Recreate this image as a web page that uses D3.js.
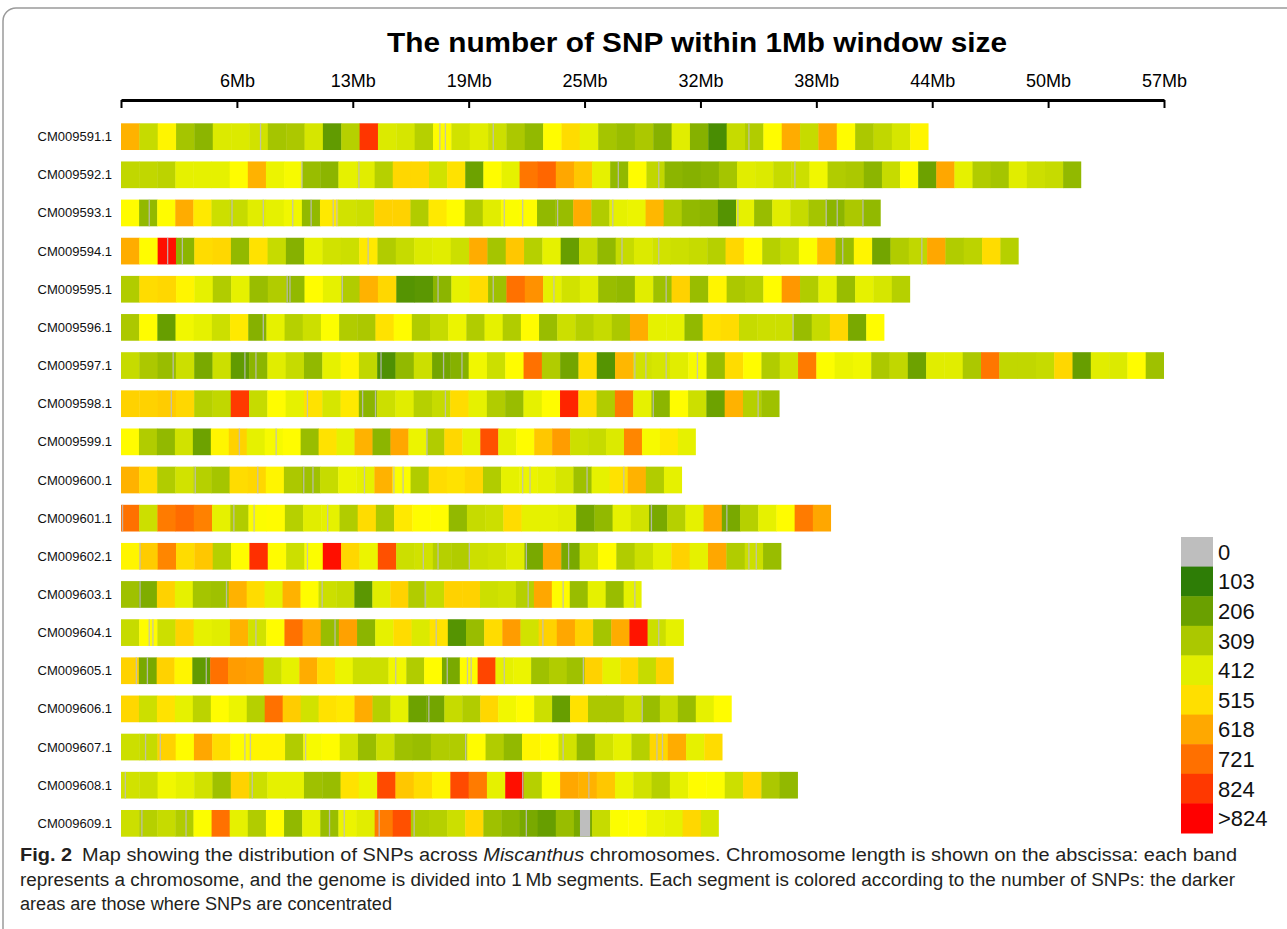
<!DOCTYPE html>
<html>
<head>
<meta charset="utf-8">
<script src="https://cdn.jsdelivr.net/npm/d3@7"></script>
<style>
body { margin:0; background:#fff; }
text { font-family: "Liberation Sans", Arial, Helvetica, sans-serif; }
</style>
</head>
<body>
<svg id="chart"></svg>
<script>
// chromosome names and lengths (Mb)
var chroms = ["CM009591.1","CM009592.1","CM009593.1","CM009594.1","CM009595.1","CM009596.1",
  "CM009597.1","CM009598.1","CM009599.1","CM009600.1","CM009601.1","CM009602.1","CM009603.1",
  "CM009604.1","CM009605.1","CM009606.1","CM009607.1","CM009608.1","CM009609.1"];
var chromLen = [43.9, 52.2, 41.3, 48.8, 42.9, 41.5, 56.7, 35.8, 31.25, 30.5, 38.6, 35.9,
  28.3, 30.6, 30.05, 33.2, 32.7, 36.8, 32.5];

// SNP count per window
var snp91 = [600,360,480,300,260,400,400,380,300,310,390,190,330,830,400,390,330,470,380,
  410,370,310,270,470,520,420,300,280,310,250,410,250,150,360,320,470,610,360,
  620,470,310,350,390,480];
var snp92 = [350,350,340,420,420,420,470,600,430,450,280,260,420,410,330,530,530,380,510,
  210,470,420,710,740,620,560,420,270,470,350,260,250,260,300,410,400,360,370,
  440,320,310,260,360,470,210,620,420,320,300,410,370,360,270];
var snp93 = [470,270,470,610,500,370,360,410,420,440,270,500,380,370,540,540,320,500,470,
  320,410,460,470,270,280,610,320,420,430,590,320,270,260,170,420,280,410,360,
  300,260,310,270];
var snp94 = [610,470,900,260,520,530,270,510,360,250,420,380,370,500,320,360,400,410,370,
  610,300,560,330,420,200,360,270,360,400,380,370,360,330,530,470,330,360,460,
  580,280,480,220,320,350,620,320,340,520,330];
var snp95 = [320,520,530,480,420,320,420,280,320,270,470,420,320,600,530,170,180,260,420,
  520,290,720,660,420,380,410,280,270,410,290,540,280,480,310,330,470,650,320,
  420,280,420,390,330];
var snp96 = [310,470,200,440,420,370,500,250,420,330,370,460,320,310,510,470,320,360,430,
  320,420,320,470,280,370,330,360,310,610,420,420,270,510,520,360,370,370,280,
  360,530,230,470];
var snp97 = [360,310,280,370,230,370,190,260,410,360,270,420,480,350,160,270,370,220,250,
  440,370,470,720,320,220,520,170,590,380,390,410,450,280,520,470,320,380,700,
  460,430,440,310,350,210,410,410,310,710,350,350,360,530,200,410,400,470,290];
var snp98 = [540,540,550,530,330,350,820,360,470,420,510,390,500,260,370,410,330,360,520,
  420,320,280,420,470,860,520,320,700,420,260,470,370,210,600,330,290];
var snp99 = [470,320,270,380,210,480,540,420,450,470,280,510,420,600,260,620,430,320,530,
  420,780,420,470,560,640,370,360,400,680,450,500,420];
var snp600 = [600,520,320,380,330,300,520,530,480,310,290,360,430,420,600,460,320,520,510,
  530,320,420,430,420,390,290,420,510,600,320,420];
var snp601 = [720,370,700,730,690,420,320,460,470,330,410,420,320,520,310,500,470,470,270,
  360,370,520,420,420,410,220,270,420,380,230,330,420,620,230,330,420,470,700,620];
var snp602 = [480,550,680,520,560,330,470,840,470,370,460,900,530,430,780,370,380,330,320,
  370,380,410,230,620,230,380,470,320,370,420,540,420,620,320,370,280];
var snp603 = [290,240,540,420,300,290,600,520,420,600,470,370,360,180,410,540,320,360,540,
  540,370,380,330,620,470,280,420,280,420];
var snp604 = [360,470,370,540,420,410,600,380,470,720,610,280,630,260,420,520,400,510,170,
  280,520,640,380,540,620,540,300,610,890,370,420];
var snp605 = [540,230,540,480,190,720,640,630,370,420,610,520,430,370,370,440,320,470,230,
  470,800,420,430,290,320,290,540,420,530,360,540];
var snp606 = [530,370,510,420,340,470,430,330,720,550,380,510,500,610,330,420,210,220,360,
  320,530,440,470,370,200,510,310,310,370,280,360,280,420,470];
var snp607 = [370,360,540,470,620,520,470,480,480,320,450,470,380,280,370,290,280,320,320,
  470,320,270,480,470,380,270,380,420,330,530,610,420,520];
var snp608 = [380,370,440,420,380,290,540,370,420,420,290,280,510,430,790,560,520,480,790,
  700,420,900,330,460,620,600,560,430,380,330,420,470,460,370,530,310,270];
var snp609 = [370,330,360,320,460,720,420,320,470,270,420,280,430,410,700,780,320,330,370,
  530,290,260,230,200,280,230,360,460,470,430,420,530,390];
var snpCounts = [snp91,snp92,snp93,snp94,snp95,snp96,snp97,snp98,snp99,snp600,snp601,
  snp602,snp603,snp604,snp605,snp606,snp607,snp608,snp609];

// stretches without SNPs (Mb)
var gaps = [
  [7.55,17.3,17.6,20.2,34.1],
  [9.8,12.9,27.0,29.2,36.6],
  [1.5,6.0,7.7,9.3,10.3,11.5,11.7,20.8,21.8,23.7,26.7,33.5,38.3,38.9,40.3],
  [2.5,3.3,13.4,27.2,29.2,39.2,43.5],
  [9.0,9.15,12.0,17.2,20.2,23.5,29.6],
  [7.7,36.5],
  [2.8,6.7,7.3,14.1,17.5,18.5,27.9,28.5,29.6,31.3],
  [2.7,10.1,13.1,13.8,17.6,28.9,34.6],
  [6.4,8.4,16.6],
  [4.0,7.4,9.9,10.4,13.2,14.8,15.3,21.8,22.2,25.3,27.3],
  [0.05,6.1,7.2,11.2,28.8,32.9],
  [1.0,10.1,16.4,17.2,18.9,22.0,24.3,34.1,34.5],
  [1.0,5.7,10.9,16.5,22.1,24.0,27.9],
  [1.5,1.7,7.3,11.6,17.1,22.9,29.2],
  [0.8,1.4,4.6,14.9,17.7,18.8,19.0,20.8,25.1],
  [16.7,28.3],
  [1.3,2.1,6.7,7.0,10.0,18.7,24.0,29.1,29.4],
  [0.2,7.1,21.8,25.4],
  [1.1,3.5,11.3,12.1,14.0,15.9,22.0]
];
var wideGaps = [[18, 24.95, 25.5]];

var legendLabels = ["0","103","206","309","412","515","618","721","824",">824"];
var tickLabels = ["","6Mb","13Mb","19Mb","25Mb","32Mb","38Mb","44Mb","50Mb","57Mb"];
var axisMax = 56.7;

var legendColors = ["#bebebe","#2e7d06","#6aa000","#abc800","#e2ee00","#ffdf00",
  "#ffa800","#ff7000","#ff3800","#ff0000"];

var screen = { width:1287, height:929 };

var svg = d3.select("#chart")
  .attr("width",screen.width)
  .attr("height",screen.height);

// figure frame
svg.append("rect")
  .attr("x",3).attr("y",8)
  .attr("width",1300).attr("height",940)
  .attr("rx",13)
  .attr("fill","none")
  .attr("stroke","#9a9a9a")
  .attr("stroke-width",1.5);

var xScale = d3.scaleLinear()
  .domain([0,axisMax])
  .range([121,1164]);

var yScale = d3.scaleBand()
  .domain(chroms)
  .range([123.3,836.7])
  .paddingInner(0.3);

// colour ramp, extra pure yellow stop between 412 and 515
var color = d3.scaleLinear()
  .domain([103,206,309,412,465,515,618,721,824,927])
  .range(["#2e7d06","#6aa000","#abc800","#e2ee00","#ffff00","#ffdf00","#ffa800","#ff7000","#ff3800","#ff0000"])
  .clamp(true);

var fillFor = function(v) { return v == 0 ? legendColors[0] : color(v); };

// title
svg.append("text")
  .attr("x",697).attr("y",52)
  .attr("text-anchor","middle")
  .attr("font-size",28)
  .attr("font-weight","bold")
  .attr("textLength",620)
  .attr("lengthAdjust","spacingAndGlyphs")
  .text("The number of SNP within 1Mb window size");

// axis
var xAxis = d3.axisTop(xScale)
  .tickValues(d3.range(10).map(function(i){ return axisMax*i/9; }))
  .tickFormat(function(d,i){ return tickLabels[i]; })
  .tickSizeInner(-8)
  .tickSizeOuter(0)
  .tickPadding(13);

var axisG = svg.append("g")
  .attr("transform","translate(0,100)")
  .call(xAxis);
axisG.select(".domain").attr("stroke-width",3).attr("stroke","#000");
axisG.selectAll(".tick line").attr("stroke-width",2).attr("stroke","#000");
axisG.selectAll(".tick text")
  .attr("font-size",18)
  .attr("fill","#000")
  .attr("font-family","'Liberation Sans Narrow','Liberation Sans',Arial,sans-serif");

// chromosome bands
var rows = svg.append("g").classed("bands",true)
  .selectAll("g")
  .data(chroms)
  .enter()
  .append("g")
  .attr("transform",function(d){ return "translate(0,"+yScale(d)+")"; });

rows.each(function(name,ci)
{
  var g = d3.select(this);
  var vals = snpCounts[ci];
  var len = chromLen[ci];
  var step = len/vals.length;

  g.selectAll("rect.win")
    .data(vals)
    .enter()
    .append("rect")
    .attr("class","win")
    .attr("x",function(d,i){ return xScale(i*step); })
    .attr("y",0)
    .attr("width",function(d,i){
      var w = xScale((i+1)*step) - xScale(i*step);
      return i == vals.length-1 ? w : w+0.4; })
    .attr("height",yScale.bandwidth())
    .attr("fill",function(d){ return fillFor(d); });

  g.selectAll("rect.gap")
    .data(gaps[ci])
    .enter()
    .append("rect")
    .attr("class","gap")
    .attr("x",function(d){ return xScale(d); })
    .attr("y",0)
    .attr("width",1.3)
    .attr("height",yScale.bandwidth())
    .attr("fill","#bdbdbd")
    .attr("opacity",0.85);

  g.append("text")
    .attr("x",112)
    .attr("y",yScale.bandwidth()/2)
    .attr("dy","0.35em")
    .attr("text-anchor","end")
    .attr("font-size",13)
    .attr("fill","#111")
    .text(name);
});

wideGaps.forEach(function(w)
{
  svg.append("rect")
    .attr("x",xScale(w[1]))
    .attr("y",yScale(chroms[w[0]]))
    .attr("width",xScale(w[2])-xScale(w[1]))
    .attr("height",yScale.bandwidth())
    .attr("fill",legendColors[0]);
});

// legend
var legY = d3.scaleBand()
  .domain(legendLabels)
  .range([537,833]);

var legend = svg.append("g").classed("legend",true);
legend.selectAll("rect")
  .data(legendLabels)
  .enter()
  .append("rect")
  .attr("x",1181)
  .attr("y",function(d){ return legY(d); })
  .attr("width",32)
  .attr("height",legY.bandwidth()+0.5)
  .attr("fill",function(d,i){ return legendColors[i]; });

legend.selectAll("text")
  .data(legendLabels)
  .enter()
  .append("text")
  .attr("x",1218)
  .attr("y",function(d){ return legY(d)+legY.bandwidth()/2; })
  .attr("dy","0.36em")
  .attr("font-size",22)
  .attr("fill","#111")
  .text(function(d){ return d; });

// caption
var capFont = "'Liberation Sans Narrow','Open Sans',Arial,sans-serif";
var cap1 = svg.append("text")
  .attr("x",20).attr("y",861)
  .attr("font-size",18)
  .attr("fill","#231f20")
  .attr("font-family",capFont)
  .attr("textLength",1217)
  .attr("lengthAdjust","spacingAndGlyphs");
cap1.append("tspan").attr("font-weight","bold").text("Fig. 2");
cap1.append("tspan").text("\u2002Map showing the distribution of SNPs across ");
cap1.append("tspan").attr("font-style","italic").text("Miscanthus");
cap1.append("tspan").text(" chromosomes. Chromosome length is shown on the abscissa: each band");

svg.append("text")
  .attr("x",20).attr("y",886)
  .attr("font-size",18)
  .attr("fill","#231f20")
  .attr("font-family",capFont)
  .attr("textLength",1215)
  .attr("lengthAdjust","spacingAndGlyphs")
  .text("represents a chromosome, and the genome is divided into 1\u2009Mb segments. Each segment is colored according to the number of SNPs: the darker");

svg.append("text")
  .attr("x",20).attr("y",910)
  .attr("font-size",18)
  .attr("fill","#231f20")
  .attr("font-family",capFont)
  .attr("textLength",372)
  .attr("lengthAdjust","spacingAndGlyphs")
  .text("areas are those where SNPs are concentrated");
</script>
</body>
</html>
